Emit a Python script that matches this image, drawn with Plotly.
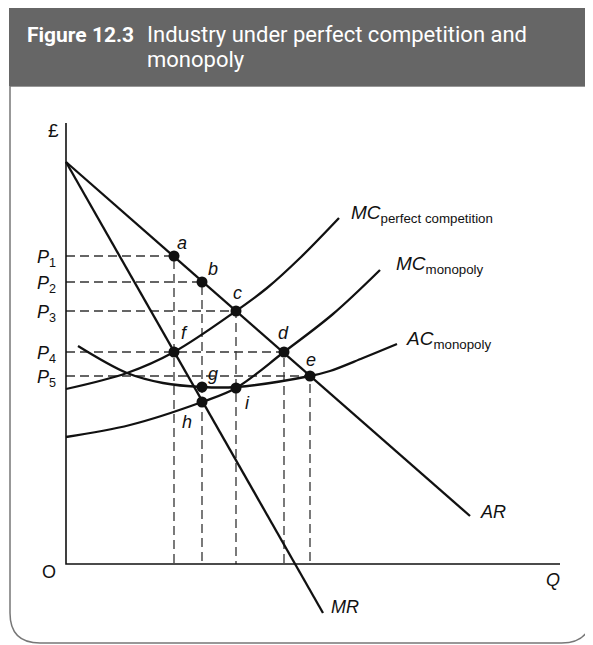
import plotly.graph_objects as go

# coordinates (Q across, P up, origin at O)
ar_q = [0, 404]
ar_p = [402, 48]
mr_q = [0, 257]
mr_p = [402, -49]
mc_pc_q = [0, 61, 108, 170, 201, 234, 273]
mc_pc_p = [175, 191, 212, 253, 276, 306, 346]
mc_m_q = [0, 64, 136, 170, 218, 267, 314]
mc_m_p = [127, 139, 162, 176, 212, 250, 294]
ac_q = [12, 61, 97, 136, 170, 244, 264, 297, 331]
ac_p = [218, 191, 181, 177, 177, 188, 193, 206, 220]

# price levels P1..P5 and the quantities they are read at
price_names = ["1", "2", "3", "4", "5"]
price_p = [308, 282, 253, 212, 188]
price_q = [108, 136, 170, 218, 244]

# labelled points a..i
pt_names = ["a", "b", "c", "d", "e", "f", "g", "h", "i"]
pt_q = [108, 136, 170, 218, 244, 108, 136, 136, 170]
pt_p = [308, 282, 253, 212, 188, 212, 177, 162, 176]

axis_top = 441
axis_right = 494

BLACK = "#111111"
font_lbl = "Liberation Sans, Arial, sans-serif"

fig = go.Figure()

# dashed guide lines
for q, p in zip(price_q, price_p):
    fig.add_trace(go.Scatter(x=[0, q, q], y=[p, p, 0], mode="lines",
                             line=dict(color="#333333", width=1.3, dash="9px,5px"),
                             hoverinfo="skip"))

# axes
fig.add_trace(go.Scatter(x=[0, 0, axis_right], y=[axis_top, 0, 0], mode="lines",
                         line=dict(color=BLACK, width=1.6), hoverinfo="skip"))

# curves
fig.add_trace(go.Scatter(x=ar_q, y=ar_p, mode="lines", line=dict(color=BLACK, width=2.3)))
fig.add_trace(go.Scatter(x=mr_q, y=mr_p, mode="lines", line=dict(color=BLACK, width=2.3)))
for cq, cp in [(mc_pc_q, mc_pc_p), (mc_m_q, mc_m_p), (ac_q, ac_p)]:
    fig.add_trace(go.Scatter(x=cq, y=cp, mode="lines",
                             line=dict(color=BLACK, width=2.3, shape="spline", smoothing=1.0)))

# dots
fig.add_trace(go.Scatter(x=pt_q, y=pt_p, mode="markers",
                         marker=dict(color=BLACK, size=11)))

# point labels, offsets in px
offs = {"a": (8, 13), "b": (11, 13), "c": (1, 18), "d": (-1, 19), "e": (1, 16),
        "f": (10, 19), "g": (11, 13), "h": (-15, -20), "i": (11, -15)}
for n, q, p in zip(pt_names, pt_q, pt_p):
    dx, dy = offs[n]
    fig.add_annotation(x=q, y=p, text="<i>%s</i>" % n, showarrow=False,
                       xshift=dx, yshift=dy, font=dict(size=18, color=BLACK, family=font_lbl))

# price labels
for n, p in zip(price_names, price_p):
    fig.add_annotation(x=-8, y=p, text="<i>P</i><sub>%s</sub>" % n, showarrow=False,
                       xanchor="right", yanchor="middle", yshift=-2,
                       font=dict(size=18, color=BLACK, family=font_lbl))

def lbl(x, y, text, size=18, xanchor="center"):
    fig.add_annotation(x=x, y=y, text=text, showarrow=False, xanchor=xanchor,
                       yanchor="middle", font=dict(size=size, color=BLACK, family=font_lbl))

lbl(-13, 434, "£", size=19)
lbl(-17, -8, "O")
lbl(487, -16, "<i>Q</i>")
lbl(279, -43, "<i>MR</i>")
lbl(427, 52, "<i>AR</i>")
lbl(283, 350, "<i>MC</i><sub>perfect competition</sub>", size=19, xanchor="left")
lbl(328, 299, "<i>MC</i><sub>monopoly</sub>", size=19, xanchor="left")
lbl(338, 224, "<i>AC</i><sub>monopoly</sub>", size=19, xanchor="left")

# frame and title band
L, R, T, B, rad = -56, 525.5, 478, -79, 30
frame = ("M %s,%s L %s,%s L %s,%s Q %s,%s %s,%s L %s,%s Q %s,%s %s,%s Z" %
         (L, T, R, T, R, B + rad, R, B, R - rad, B, L + rad, B, L, B, L, B + rad))
fig.add_shape(type="path", path=frame, xref="x", yref="y", layer="below",
              line=dict(color="#777777", width=1.5), fillcolor="white")
fig.add_shape(type="rect", x0=-57, x1=527, y0=478, y1=560, xref="x", yref="y",
              layer="below", line=dict(width=0), fillcolor="#666666")

title_font = "Roboto, Arial, sans-serif"
fig.add_annotation(x=-41, y=515, text="<b>Figure 12.3</b>", showarrow=False,
                   xanchor="left", yanchor="bottom",
                   font=dict(size=21, color="white", family=title_font))
fig.add_annotation(x=79, y=515, text="Industry under perfect competition and", showarrow=False,
                   xanchor="left", yanchor="bottom",
                   font=dict(size=22, color="white", family=title_font))
fig.add_annotation(x=79, y=490, text="monopoly", showarrow=False,
                   xanchor="left", yanchor="bottom",
                   font=dict(size=22, color="white", family=title_font))

# the page body keeps an 8px margin, so the figure is 8px smaller and offset
fig.update_layout(
    width=585, height=637,
    margin=dict(l=0, r=0, t=0, b=0),
    paper_bgcolor="white", plot_bgcolor="rgba(0,0,0,0)",
    showlegend=False,
    xaxis=dict(range=[-58, 527], visible=False, fixedrange=True),
    yaxis=dict(range=[-81, 556], visible=False, fixedrange=True),
)

fig.write_html("out.html")
